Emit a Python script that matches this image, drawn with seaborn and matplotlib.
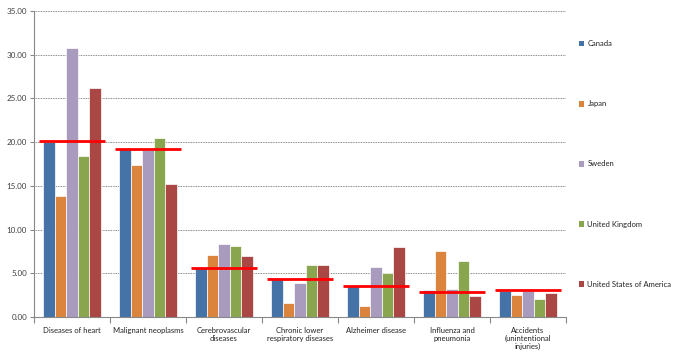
import matplotlib
matplotlib.use("Agg")
import matplotlib.pyplot as plt
import seaborn as sns
import pandas as pd
import numpy as np
from matplotlib.patches import Patch
from matplotlib.ticker import FixedLocator, FuncFormatter

causes = ["Diseases of heart", "Malignant neoplasms", "Cerebrovascular\ndiseases",
          "Chronic lower\nrespiratory diseases", "Alzheimer disease",
          "Influenza and\npneumonia", "Accidents\n(unintentional\ninjuries)"]
countries = ["Canada", "Japan", "Sweden", "United Kingdom", "United States of America"]

canada = [20.0, 19.3, 5.6, 4.5, 3.5, 3.1, 3.0]
japan = [13.8, 17.4, 7.1, 1.6, 1.3, 7.6, 2.5]
sweden = [30.8, 19.1, 8.3, 3.9, 5.7, 3.2, 3.0]
uk = [18.4, 20.5, 8.1, 5.9, 5.0, 6.4, 2.1]
usa = [26.2, 15.2, 7.0, 6.0, 8.0, 2.4, 2.7]
average = [20.1, 19.2, 5.6, 4.4, 3.5, 2.9, 3.1]

colors = ["#4572A7", "#DB843D", "#A99BBD", "#89A54E", "#AA4643"]

rows = []
for c, vals in zip(countries, [canada, japan, sweden, uk, usa]):
    for cause, v in zip(causes, vals):
        rows.append({"cause": cause, "country": c, "value": v})
df = pd.DataFrame(rows)

sns.set_style("white")
plt.rcParams["font.family"] = ["Lato", "DejaVu Sans"]

fig = plt.figure(figsize=(6.76, 3.56), dpi=100)
ax = fig.add_axes([34/676, 1-317/356, (566-34)/676, (317-11)/356])

sns.barplot(data=df, x="cause", y="value", hue="country", order=causes,
            hue_order=countries, palette=colors, width=0.76, saturation=1,
            edgecolor="white", linewidth=0.5, ax=ax, legend=False)

xs = np.arange(len(causes))
ax.hlines(average, xs - 0.43, xs + 0.43, colors="#FF0000", linewidth=2.0, zorder=5)

ax.set_xlim(-0.5, len(causes) - 0.5)
ax.set_ylim(0, 35)
ax.set_yticks(np.arange(0, 35.01, 5))
ax.yaxis.set_major_formatter(FuncFormatter(lambda v, p: f"{v:.2f}"))
ax.set_xlabel("")
ax.set_ylabel("")

ax.yaxis.grid(True, linestyle=(0, (1, 1)), color="#666666", linewidth=0.6)
ax.set_axisbelow(True)
for s in ["top", "right"]:
    ax.spines[s].set_visible(False)
for s in ["left", "bottom"]:
    ax.spines[s].set_color("#888888")
    ax.spines[s].set_linewidth(0.8)

ax.tick_params(axis="y", left=True, length=3, width=0.8, color="#888888",
               labelsize=5.8, labelcolor="#404040", pad=2)
ax.tick_params(axis="x", which="major", length=0, labelsize=5.5, labelcolor="#222222", pad=7)
ax.xaxis.set_minor_locator(FixedLocator(np.arange(-0.5, len(causes), 1.0)))
ax.tick_params(axis="x", which="minor", bottom=True, length=4, width=0.8, color="#888888")

handles = [Patch(facecolor=c, edgecolor="none") for c in colors]
fig.legend(handles, countries, loc="center left", bbox_to_anchor=(0.856, 1-164/356),
           frameon=False, fontsize=5.5, labelspacing=6.95, handlelength=0.75,
           handleheight=0.75, handletextpad=0.4, borderpad=0, borderaxespad=0,
           labelcolor="#222222")

fig.savefig("out.png", dpi=100)
